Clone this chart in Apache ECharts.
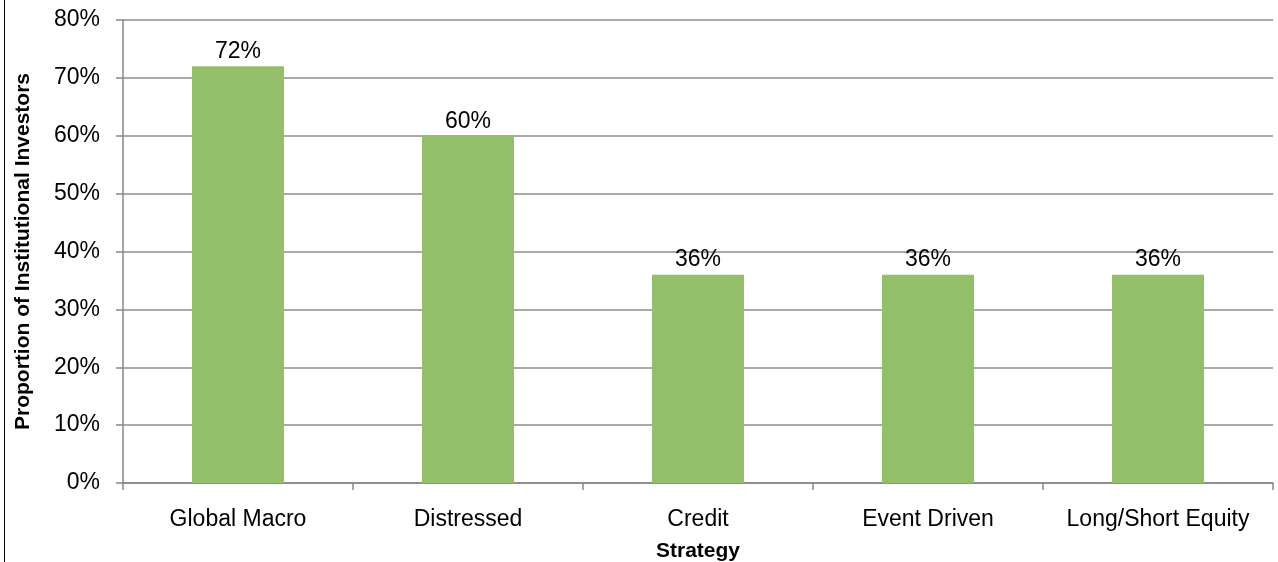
<!DOCTYPE html>
<html>
<head>
<meta charset="utf-8">
<style>
  html, body { margin: 0; padding: 0; background: #fff; }
  #chart { width: 1278px; height: 562px; }
</style>
<script src="https://cdn.jsdelivr.net/npm/echarts@6/dist/echarts.min.js"></script>
</head>
<body>
<div id="chart"></div>
<script>
// Strategies and the share of institutional investors favouring each
const strategies = ['Global Macro', 'Distressed', 'Credit', 'Event Driven', 'Long/Short Equity'];
const shares = [72, 60, 36, 36, 36];

const FONT = '"Liberation Sans", Arial, sans-serif';
const chart = echarts.init(document.getElementById('chart'), null, { renderer: 'canvas' });

chart.setOption({
  animation: false,
  textStyle: { fontFamily: FONT },
  grid: { left: 123, right: 5, top: 20, bottom: 79, containLabel: false, outerBoundsMode: 'none' },
  graphic: [{
    type: 'line',
    shape: { x1: 4.5, y1: 0, x2: 4.5, y2: 562 },
    style: { stroke: '#000', lineWidth: 1 }
  }],
  xAxis: {
    type: 'category',
    data: strategies,
    name: 'Strategy',
    nameLocation: 'middle',
    nameGap: 58,
    nameTextStyle: { fontFamily: FONT, fontSize: 21, fontWeight: 'bold', color: '#000' },
    axisLine: { show: true, lineStyle: { color: '#888', width: 1.5 } },
    axisTick: { show: true, length: 7, interval: 0, alignWithLabel: false, lineStyle: { color: '#888', width: 1.5 } },
    axisLabel: { fontFamily: FONT, fontSize: 23, color: '#000', margin: 25, interval: 0, hideOverlap: false }
  },
  yAxis: {
    type: 'value',
    min: 0,
    max: 80,
    interval: 10,
    name: 'Proportion of Institutional Investors',
    nameLocation: 'middle',
    nameGap: 89,
    nameTextStyle: { fontFamily: FONT, fontSize: 21, fontWeight: 'bold', color: '#000' },
    axisLine: { show: true, lineStyle: { color: '#888', width: 1.5 } },
    axisTick: { show: true, length: 7, lineStyle: { color: '#888', width: 1.5 } },
    axisLabel: { fontFamily: FONT, fontSize: 23, color: '#000', margin: 23, formatter: '{value}%' },
    splitLine: { show: true, lineStyle: { color: '#8c8c8c', width: 1.5 } }
  },
  series: [{
    type: 'bar',
    data: shares,
    barWidth: '40%',
    itemStyle: { color: '#93bf6b' },
    label: {
      show: true,
      position: 'top',
      distance: 3,
      fontFamily: FONT,
      fontSize: 23,
      color: '#000',
      formatter: p => p.value + '%'
    }
  }]
});
</script>
</body>
</html>
